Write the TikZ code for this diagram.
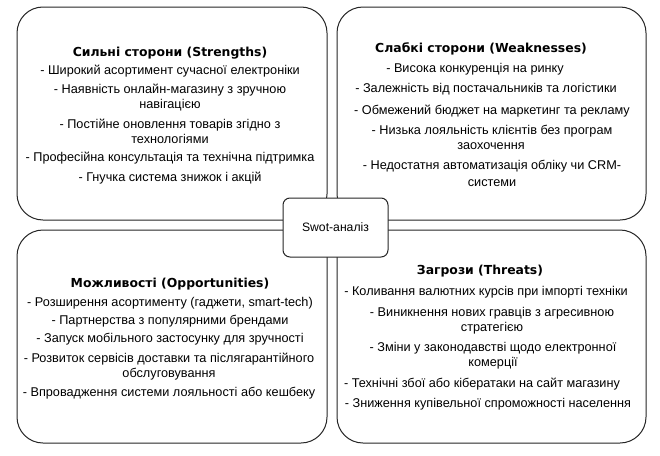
\documentclass[tikz,border=0pt]{standalone}
\usepackage{fontspec}
\setmainfont{Liberation Sans}
\newfontfamily\headfont{DejaVu Sans}
\begin{document}
\begin{tikzpicture}[x=1pt,y=-1pt,
  quad/.style={draw=black!85, line width=1pt, rounded corners=26pt, fill=white, inner sep=0pt},
  hub/.style={draw=black!85, line width=1pt, rounded corners=7pt, fill=white, inner sep=0pt,
    minimum width=105pt, minimum height=59pt, font=\fontsize{12.2}{14}\selectfont},
  head/.style={anchor=base, inner sep=0pt, font=\headfont\fontsize{12.4}{15}\selectfont\bfseries},
  item/.style={anchor=base, inner sep=0pt, font=\fontsize{12.7}{15}\selectfont}]
\useasboundingbox (0,0) rectangle (660,455);
\fill[white] (0,0) rectangle (660,455);

% the four quadrants
\node[quad, minimum width=310pt, minimum height=213pt] (S) at (172,113.5) {};
\node[quad, minimum width=309pt, minimum height=213pt] (W) at (491.5,113.5) {};
\node[quad, minimum width=310pt, minimum height=213pt] (O) at (172,336.5) {};
\node[quad, minimum width=309pt, minimum height=213pt] (T) at (491.5,336.5) {};

% central label over the inner corners
\node[hub] (hub) at (335.5,227.5) {Swot-аналіз};

% Strengths
\node[head] (s0) at (170,56) {Сильні сторони (Strengths)};
\node[item] (s1) at (170,74.5) {- Широкий асортимент сучасної електроніки};
\node[item] (s2a) at (170,93.5) {- Наявність онлайн-магазину з зручною};
\node[item] (s2b) at (170,108.5) {навігацією};
\node[item] (s3a) at (170,128.5) {- Постійне оновлення товарів згідно з};
\node[item] (s3b) at (170,143) {технологіями};
\node[item] (s4) at (170,161.5) {- Професійна консультація та технічна підтримка};
\node[item] (s5) at (170,181.5) {- Гнучка система знижок і акцій};

% Weaknesses
\node[head] (w0) at (481,52.5) {Слабкі сторони (Weaknesses)};
\node[item] (w1) at (475,72.5) {- Висока конкуренція на ринку};
\node[item] (w2) at (486,92.5) {- Залежність від постачальників та логістики};
\node[item] (w3) at (492,114.5) {- Обмежений бюджет на маркетинг та рекламу};
\node[item] (w4a) at (492,134.5) {- Низька лояльність клієнтів без програм};
\node[item] (w4b) at (491,149.5) {заохочення};
\node[item] (w5a) at (492,169.5) {- Недостатня автоматизація обліку чи CRM-};
\node[item] (w5b) at (492,186.5) {системи};

% Opportunities
\node[head] (o0) at (170,287.5) {Можливості (Opportunities)};
\node[item] (o1) at (170,306.5) {- Розширення асортименту (гаджети, smart-tech)};
\node[item] (o2) at (170,324.5) {- Партнерства з популярними брендами};
\node[item] (o3) at (170,342.5) {- Запуск мобільного застосунку для зручності};
\node[item] (o4a) at (169,362.5) {- Розвиток сервісів доставки та післягарантійного};
\node[item] (o4b) at (169,377.5) {обслуговування};
\node[item] (o5) at (169,396.5) {- Впровадження системи лояльності або кешбеку};

% Threats
\node[head] (t0) at (480,274.5) {Загрози (Threats)};
\node[item] (t1) at (486,295.5) {- Коливання валютних курсів при імпорті техніки};
\node[item] (t2a) at (492,316.5) {- Виникнення нових гравців з агресивною};
\node[item] (t2b) at (492,331.5) {стратегією};
\node[item] (t3a) at (493,351.5) {- Зміни у законодавстві щодо електронної};
\node[item] (t3b) at (493,366.5) {комерції};
\node[item] (t4) at (482,387.5) {- Технічні збої або кібератаки на сайт магазину};
\node[item] (t5) at (488,407.5) {- Зниження купівельної спроможності населення};
\end{tikzpicture}
\end{document}
